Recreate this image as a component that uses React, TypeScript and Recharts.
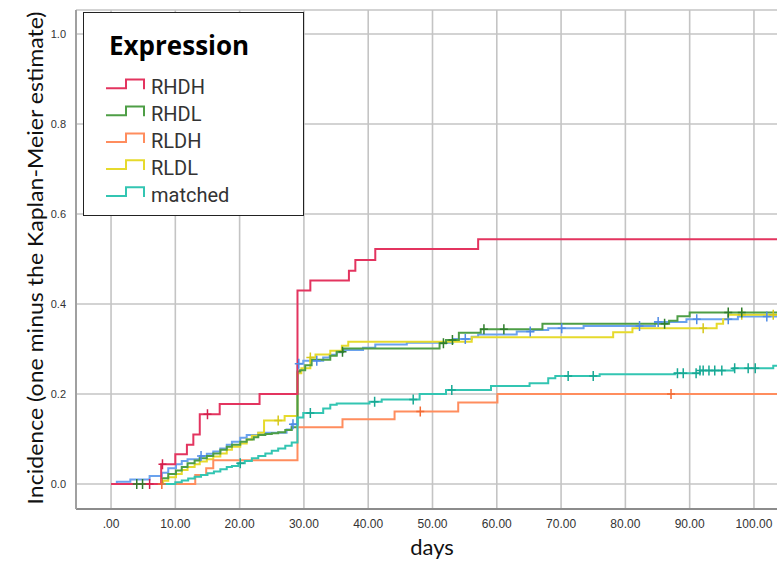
import React from "react";
import { LineChart, Line, XAxis, YAxis, CartesianGrid } from "recharts";

// tick values
const xTicks = [0, 10, 20, 30, 40, 50, 60, 70, 80, 90, 100];
const yTicks = [0, 0.2, 0.4, 0.6, 0.8, 1.0];

// RHDH
const rhdhDays = [0, 7.8, 10, 11.8, 12.8, 13.8, 16.9, 23.1, 29.0, 31.0, 37.0, 38.0, 41.1, 57.1, 104];
const rhdhInc = [0, 0.044, 0.066, 0.087, 0.11, 0.155, 0.178, 0.2, 0.43, 0.452, 0.474, 0.498, 0.522, 0.544, 0.544];
const rhdhCens = [6, 8, 15];

// RHDL
const rhdlDays = [0, 7.9, 8.9, 10.1, 11, 11.9, 13, 13.8, 14.9, 15.9, 17, 18, 18.8, 20.1, 21.1, 22.2, 22.9, 24, 25, 26, 27.1, 28.1, 29.0, 29.4, 30.2, 31.2, 34.1, 35.1, 36.1, 51.1, 52.1, 54.1, 57.5, 67.1, 86.8, 88.1, 90.0, 104];
const rhdlInc = [0, 0.013, 0.022, 0.03, 0.038, 0.046, 0.052, 0.057, 0.062, 0.068, 0.076, 0.083, 0.087, 0.094, 0.099, 0.104, 0.109, 0.111, 0.113, 0.115, 0.12, 0.126, 0.25, 0.253, 0.264, 0.276, 0.285, 0.294, 0.301, 0.313, 0.32, 0.336, 0.344, 0.356, 0.363, 0.373, 0.381, 0.381];
const rhdlCens = [4, 4.9, 36, 51.7, 53.1, 58, 61.1, 86.1, 96, 98.1];

// RLDH
const rldhDays = [0, 13.1, 14.8, 15.9, 29.0, 36.0, 44.1, 54.0, 60.1, 104];
const rldhInc = [0, 0.02, 0.035, 0.053, 0.126, 0.144, 0.161, 0.181, 0.2, 0.2];
const rldhCens = [7.9, 48.1, 87.1];

// RLDL
const rldlDays = [0, 8.1, 8.9, 10.1, 11, 11.9, 13, 13.8, 14.9, 15.9, 17, 18, 18.8, 20.1, 21.1, 21.9, 22.9, 23.8, 27.0, 29.0, 29.6, 31.0, 31.8, 34.1, 35.9, 36.9, 56.1, 78.1, 81.1, 94.2, 95.2, 96.0, 104];
const rldlInc = [0, 0.007, 0.015, 0.022, 0.031, 0.038, 0.044, 0.05, 0.055, 0.061, 0.068, 0.076, 0.083, 0.09, 0.099, 0.107, 0.114, 0.141, 0.151, 0.246, 0.257, 0.281, 0.288, 0.296, 0.307, 0.316, 0.326, 0.337, 0.346, 0.356, 0.366, 0.376, 0.376];
const rldlCens = [26, 31, 92.1, 98.1, 103];

// matched
const matchedDays = [0, 10, 11, 12, 13, 14, 15, 16, 17, 18, 18.8, 19.8, 20.8, 21.9, 22.9, 24, 25, 26, 27.1, 28.1, 29.0, 29.9, 33, 34.1, 35.1, 40.2, 42.1, 48, 52.1, 59.1, 65.1, 68, 69.1, 76, 87.7, 91.6, 96.8, 103, 104];
const matchedInc = [0, 0.004, 0.008, 0.012, 0.016, 0.02, 0.024, 0.028, 0.033, 0.038, 0.04, 0.046, 0.051, 0.057, 0.062, 0.068, 0.074, 0.079, 0.085, 0.092, 0.148, 0.158, 0.168, 0.176, 0.179, 0.183, 0.188, 0.2, 0.209, 0.218, 0.224, 0.235, 0.24, 0.244, 0.246, 0.252, 0.257, 0.263, 0.263];
const matchedCens = [20.1, 31, 41, 47, 53, 71.1, 75, 88.1, 89, 91, 91.6, 92.1, 93, 93.9, 95, 97, 99.1, 100.2];

// blue group (cut off from the legend box)
const blueDays = [0, 0.9, 3, 6, 7.9, 8.9, 10.1, 11, 11.9, 13.8, 14.9, 15.9, 17, 18, 18.8, 20.1, 21.1, 22.9, 27.3, 28.1, 29.0, 29.9, 33, 34, 35.1, 36.1, 39.2, 41.1, 46, 53.2, 56.1, 57.1, 63.1, 65.7, 68, 73.5, 84.6, 89.5, 97.5, 104];
const blueInc = [0, 0.005, 0.01, 0.018, 0.025, 0.035, 0.044, 0.051, 0.055, 0.062, 0.067, 0.072, 0.079, 0.087, 0.094, 0.103, 0.109, 0.114, 0.121, 0.133, 0.267, 0.274, 0.281, 0.287, 0.293, 0.298, 0.303, 0.31, 0.314, 0.322, 0.327, 0.332, 0.339, 0.342, 0.346, 0.351, 0.36, 0.366, 0.372, 0.372];
const blueCens = [14, 28.3, 29.2, 32, 55.1, 65.2, 70.1, 82.2, 85.1, 91.1, 96, 102];

type Pt = { d: number; v: number; c?: boolean };

const buildSeries = (days: number[], inc: number[], cens: number[]): Pt[] => {
  const pts: Pt[] = days.map((d, i) => ({ d, v: inc[i] }));
  cens.forEach((c) => {
    let v = 0;
    days.forEach((d, i) => {
      if (d <= c) v = inc[i];
    });
    pts.push({ d: c, v, c: true });
  });
  return pts.sort((a, b) => a.d - b.d || (a.c ? 1 : 0) - (b.c ? 1 : 0));
};

const series = [
  { name: "blue", data: buildSeries(blueDays, blueInc, blueCens), color: "#6aa2ee", mark: "#4f8be6" },
  { name: "RLDL", data: buildSeries(rldlDays, rldlInc, rldlCens), color: "#e6da2c", mark: "#d6c81a" },
  { name: "RHDL", data: buildSeries(rhdlDays, rhdlInc, rhdlCens), color: "#4e9e46", mark: "#2f7d2c" },
  { name: "RLDH", data: buildSeries(rldhDays, rldhInc, rldhCens), color: "#ff8d5e", mark: "#f26b36" },
  { name: "matched", data: buildSeries(matchedDays, matchedInc, matchedCens), color: "#33c5b2", mark: "#18a894" },
  { name: "RHDH", data: buildSeries(rhdhDays, rhdhInc, rhdhCens), color: "#e3345f", mark: "#d41f4c" },
];

const legendItems = [
  { label: "RHDH", color: "#e3345f" },
  { label: "RHDL", color: "#4e9e46" },
  { label: "RLDH", color: "#ff8d5e" },
  { label: "RLDL", color: "#e6da2c" },
  { label: "matched", color: "#33c5b2" },
];

const censorDot = (color: string) => (props: any) => {
  const { cx, cy, payload, index } = props;
  if (!payload || !payload.c) return <g key={index} />;
  return (
    <path
      key={index}
      d={`M${cx},${cy - 5}V${cy + 5}M${cx - 4},${cy}H${cx + 4}`}
      stroke={color}
      strokeWidth={1.5}
      fill="none"
    />
  );
};

const tickFont = { fontSize: 12, fill: "#333", fontFamily: "Liberation Sans, Arial, sans-serif" };

export default function App() {
  return (
    <div
      style={{
        position: "absolute",
        left: 0,
        top: 0,
        width: 777,
        height: 566,
        overflow: "hidden",
        background: "#fff",
      }}
    >
      <LineChart width={780} height={566} margin={{ top: 10, right: 0, bottom: 0, left: 0 }}>
        <CartesianGrid stroke="#c4c4c4" strokeWidth={1.6} />
        <XAxis
          type="number"
          dataKey="d"
          domain={[-5.45, 104.05]}
          ticks={xTicks}
          interval={0}
          allowDataOverflow
          height={57}
          tickFormatter={(v: number) => (v === 0 ? ".00" : v.toFixed(2))}
          axisLine={{ stroke: "#8c8c8c", strokeWidth: 2 }}
          tickLine={false}
          tickSize={4}
          tickMargin={6}
          tick={tickFont}
        />
        <YAxis
          type="number"
          domain={[-0.0556, 1.0533]}
          ticks={yTicks}
          interval={0}
          allowDataOverflow
          width={76}
          tickFormatter={(v: number) => v.toFixed(1)}
          axisLine={{ stroke: "#a0a0a0", strokeWidth: 2 }}
          tickLine={false}
          tickSize={4}
          tickMargin={6}
          tick={{ ...tickFont, fontSize: 11 }}
        />
        {series.map((s) => (
          <Line
            key={s.name}
            data={s.data}
            dataKey="v"
            type="stepAfter"
            stroke={s.color}
            strokeWidth={2}
            dot={censorDot(s.mark)}
            activeDot={false}
            isAnimationActive={false}
          />
        ))}
      </LineChart>
      <svg
        width={777}
        height={566}
        style={{ position: "absolute", left: 0, top: 0, pointerEvents: "none" }}
      >
        <text
          transform="translate(43,258) rotate(-90)"
          textAnchor="middle"
          fontSize={21}
          fontFamily="Lato, sans-serif"
          fill="#111"
          textLength={493}
          lengthAdjust="spacingAndGlyphs"
        >
          Incidence (one minus the Kaplan-Meier estimate)
        </text>
        <text x={432} y={555} textAnchor="middle" fontSize={22} fontFamily="Lato, sans-serif" fill="#111">
          days
        </text>
        <rect x={83.5} y={12.5} width={220} height={203} fill="#fff" stroke="#222" strokeWidth={1} />
        <text x={109} y={55} fontSize={26} fontWeight="bold" fontFamily="Open Sans, sans-serif" fill="#000">
          Expression
        </text>
        {legendItems.map((it, i) => {
          const base = 94 + i * 26.9;
          const low = base - 5.7;
          const high = low - 8.7;
          return (
            <g key={it.label}>
              <path
                d={`M106,${low}H126V${high}H144V${low + 1}`}
                stroke={it.color}
                strokeWidth={2}
                fill="none"
              />
              <text x={151} y={base} fontSize={20} fontFamily="Roboto, sans-serif" fill="#333">
                {it.label}
              </text>
            </g>
          );
        })}
      </svg>
    </div>
  );
}
